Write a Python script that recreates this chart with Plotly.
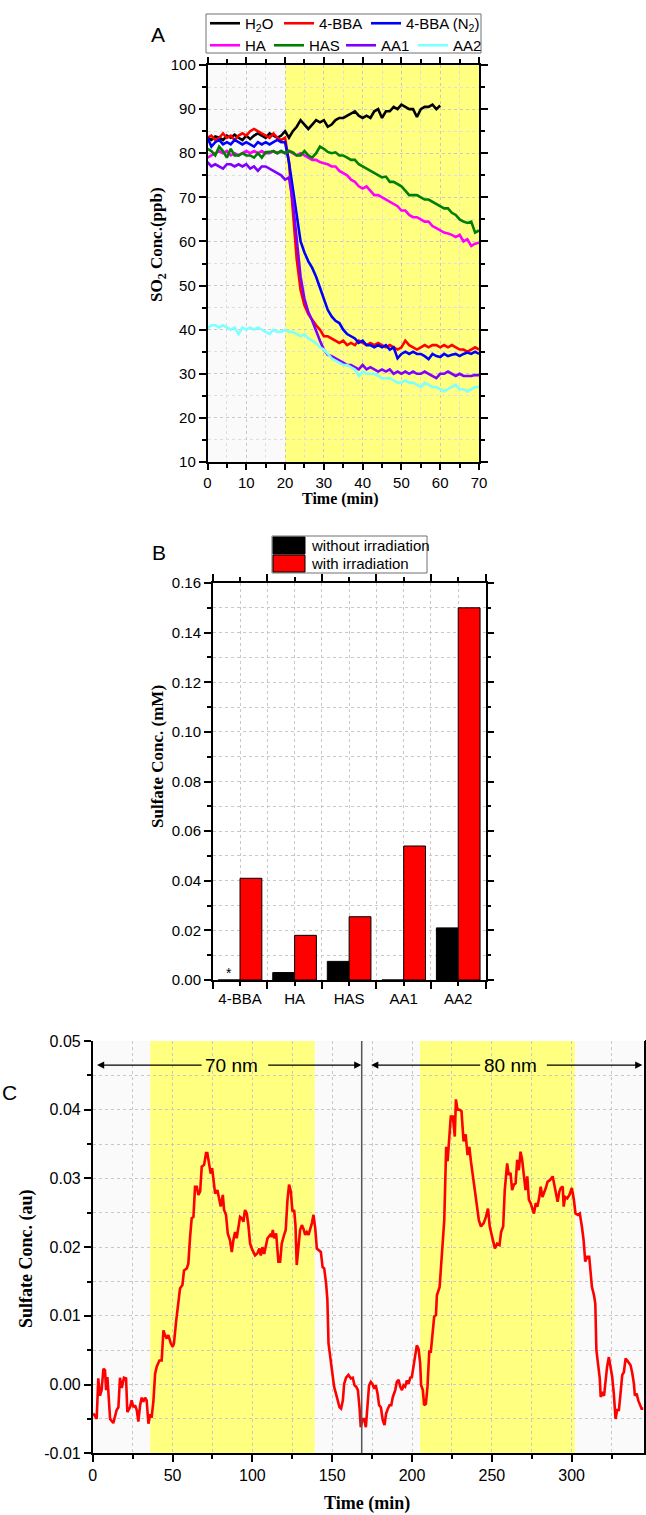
import plotly.graph_objects as go

W, H = 646, 1515

# ---------------- Panel A data ----------------
t_a = list(range(0, 71))
t_h2o = list(range(0, 61))
h2o = [83.5, 83, 83.8, 83.5, 83, 84, 83.5, 84.2, 83.5, 83, 84, 83.2, 84, 84.5, 84, 83.5, 84.5, 84, 83.5, 84,
       85, 83.5, 85, 86, 87.5, 86.5, 85.5, 86.5, 87.5, 87, 87.5, 86, 86.5, 87.5, 88, 88, 88.5, 89, 89.5, 88.5,
       88, 88.5, 88, 89.5, 90, 88, 89.5, 89.5, 90.5, 90, 91, 90.5, 90, 90, 88.2, 90, 90.5, 90.5, 91, 90, 90.8]
bba = [83.5, 84, 83, 83.5, 84.5, 83.5, 84, 83, 84, 84.5, 84, 85, 85.5, 85, 84.5, 84, 83.5, 84.5, 83.5, 83,
       83.5, 78, 66, 56, 49, 45.5, 43.5, 42.2, 41, 40, 38.5, 38.5, 38, 37.5, 37, 37.5, 36.5, 37, 36.5, 37.5,
       37, 36.5, 37, 36.5, 37, 36.5, 36, 36.5, 36, 35.5, 36, 37.5, 36.5, 36, 35.5, 36, 36.5, 36, 36.5, 36.5,
       36, 36.5, 36, 36.5, 36, 35.5, 35.5, 35, 35.5, 36, 35.5]
bba_n2 = [83.5, 81.5, 82.5, 83, 82, 82.5, 82, 83, 82.5, 82, 82.5, 82, 81.5, 82.5, 82, 82.5, 82, 82.5, 83, 82.5,
          82.5, 78, 72, 66, 60, 57.5, 55.5, 54, 52, 49.5, 47, 44.5, 43, 42, 41.5, 40, 39, 38.5, 38, 37,
          37.5, 36.5, 36.5, 36, 36.5, 36, 36.5, 35.5, 36, 33.5, 34.5, 35, 34.5, 35, 34.5, 34.5, 34, 33.3, 34.5, 34,
          33.8, 34.5, 34, 34.3, 34.5, 34, 34.5, 34.8, 34.5, 35, 34.5]
ha = [79, 79.5, 80, 80.5, 80, 80.5, 79.5, 80, 79.5, 80, 80.5, 80, 80.5, 80, 80.5, 80, 80, 80.5, 80, 80.5,
      80, 80.5, 80, 79.5, 80, 79.5, 79, 78.5, 78.5, 78, 77.7, 77.5, 77, 77, 76, 75.5, 75, 74, 73.5, 72.5,
      72, 72.5, 71.5, 70.5, 70.5, 70, 69.5, 69, 68.5, 68, 67, 67, 66, 65.5, 65.5, 65, 64.5, 64.5, 63.5, 63,
      62.5, 62, 61.8, 61.5, 61, 61.5, 60, 60.5, 59, 59.5, 59.7]
has = [81, 80.5, 79.5, 81.5, 80.5, 79, 81, 79.5, 79.5, 80, 79.5, 79.5, 79, 80, 79, 80.2, 80.3, 80.5, 80, 80.5,
       80, 80.5, 80.2, 79.5, 79.5, 80.5, 79.5, 79, 80, 81.5, 81, 80.3, 80, 80.2, 79.5, 79.5, 79, 78.5, 78.5, 77.5,
       77, 76.5, 76, 75.5, 75, 74.5, 74.7, 73.5, 73.5, 73, 72.5, 71.5, 70.5, 70.5, 70.5, 70, 69.5, 69.5, 69, 68.5,
       68, 67.5, 67.5, 66.5, 66, 65, 64.5, 64.2, 64.5, 62, 62.5]
aa1 = [78, 77, 77.5, 77, 76.5, 77.5, 77.5, 77, 77.5, 77, 77.5, 76.5, 77, 76, 77, 77, 76.5, 76, 75.5, 75,
       74, 74.5, 69, 61, 52, 47, 44, 42, 39.5, 37.5, 35.5, 34.3, 34, 33.5, 33, 32.5, 32, 32, 31.5, 31,
       32, 31, 31.5, 31, 30.5, 31, 30.5, 31, 30, 30.5, 30, 30.5, 30, 30.5, 30, 30, 30.5, 30, 29.5, 29,
       30, 30, 30.5, 30, 29.5, 30, 29.5, 29.5, 29.5, 29.7, 29.7]
aa2 = [40.3, 41, 41, 40.5, 41, 40.5, 40, 40.5, 39, 40.5, 40, 40.5, 40, 40.5, 40, 39.5, 39, 40, 39.5, 39.5,
       40, 39.5, 39.5, 39, 38.5, 39, 38, 37.5, 37, 36, 35.5, 34.5, 33.5, 33, 32.5, 32, 32, 31.5, 31, 29.5,
       30.5, 30, 30, 30, 29.5, 29, 29, 29, 28.5, 28, 28, 28.5, 28, 28, 27.5, 27, 28, 27.5, 27, 27,
       26.5, 26, 26.5, 27, 27.5, 26.5, 26.5, 26, 26.5, 27, 27]

# (name, x, y, colour, legend, legend entry width)
series_a = [
    ("H<sub>2</sub>O", t_h2o, h2o, "#000000", "legend", 29),
    ("4-BBA", t_a, bba, "#ff0000", "legend", 42),
    ("4-BBA (N<sub>2</sub>)", t_a, bba_n2, "#0000ff", "legend", 75),
    ("HA", t_a, ha, "#ff00ff", "legend2", 19),
    ("HAS", t_a, has, "#008000", "legend2", 27),
    ("AA1", t_a, aa1, "#8000ff", "legend2", 27),
    ("AA2", t_a, aa2, "#80ffff", "legend2", 29),
]

# ---------------- Panel B data ----------------
b_cats = ["4-BBA", "HA", "HAS", "AA1", "AA2"]
b_without = [0, 0.003, 0.0075, 0, 0.021]
b_with = [0.041, 0.018, 0.0255, 0.054, 0.150]

# ---------------- Panel C data ----------------
t_c = [0.4, 2.5, 3.5, 4.6, 5.6, 6.7, 7.7, 8.4, 9.2, 10.9, 12.9, 15, 16.1, 17.1, 18.2, 19.6, 20.9, 21.7, 23.4, 24.4,
       25.5, 26.5, 27.6, 28.6, 29.7, 30.7, 31.7, 32.8, 33.8, 34.9, 35.9, 37, 38, 39.1, 40.1, 41.8, 43.2, 44.3, 45.3, 46.4,
       47.4, 48.9, 50.1, 50.9, 52.2, 53.7, 54.7, 56.2, 57.2, 58.9, 59.9, 61, 62, 63.1, 64.1, 65.2, 66.2, 67.3, 68.3, 69.8,
       71, 71.8, 73.1, 73.9, 74.8, 75.6, 76.7, 78.1, 79.4, 80.2, 81.5, 82.3, 83.5, 84.6, 86, 87.1, 88.1, 89.2, 90.2, 91.3,
       92.3, 93.4, 94.4, 95.4, 96.5, 97.5, 98.6, 100, 101.7, 103.2, 104.4, 105.3, 106.3, 107.4, 108.5, 109.5, 111.2, 112.2, 112.8, 113.6,
       114.9, 115.7, 116.3, 117.4, 118.4, 119.9, 120.9, 122, 123, 124.1, 125.1, 126.2, 127, 127.8, 128.9, 129.9, 131, 132, 133.1, 134.1,
       135.2, 136.2, 137.3, 138.3, 139.4, 140.4, 141.4, 142.9, 144, 145, 146.2, 147, 147.7, 148.7, 149.8, 151.2, 152.9, 154.6, 155.6, 156.7,
       157.5, 158.7, 160.2, 161.7, 162.9, 164, 165, 166.1, 167.1, 167.9, 169, 170, 171.1, 172.1, 173.1, 174.2, 175.2, 176.3, 177.3, 178.4,
       179.4, 180.5, 181.7, 182.8, 183.8, 184.9, 185.9, 187, 188, 189.5, 190.5, 191.6, 192.6, 193.7, 194.7, 195.7, 196.8, 197.8, 198.9, 199.9,
       200.9, 202, 203, 204.1, 205.1, 205.7, 206.8, 207.6, 208.7, 209.7, 210.8, 211.8, 212.9, 213.9, 215, 215.6, 217.3, 218.7, 220.2, 221.4,
       222.3, 223.1, 224.3, 225.6, 226.8, 227.5, 228.5, 229.8, 231, 232.3, 233.6, 234.8, 235.9, 236.9, 238.2, 239.4, 240.7, 241.9, 243.2, 244.9,
       246.3, 247.6, 248.7, 249.7, 250.8, 251.9, 253.3, 254.8, 255.8, 257.1, 258.1, 259.6, 260.6, 261.7, 262.7, 263.8, 264.9, 265.9, 266.9, 268,
       269, 270.1, 271.1, 272.2, 273.2, 274.3, 275.4, 276.4, 277.5, 278.5, 279.6, 280.6, 281.7, 282.7, 283.8, 284.9, 286.6, 288.1, 289.1, 290.2,
       291.2, 292.3, 293.2, 294.4, 295, 295.9, 297.2, 298.6, 300.1, 301.4, 302.4, 303.9, 305.1, 306.4, 307.5, 308.5, 309.8, 311, 311.9, 312.7,
       314, 314.8, 315.5, 316.5, 317.6, 318.2, 319.3, 320.3, 321.2, 322.2, 323.3, 324.3, 325.4, 326.4, 327.5, 328.5, 329.6, 330.6, 331.7, 332.7,
       333.8, 334.8, 335.9, 336.9, 338, 339, 339.6, 340.7, 341.7, 342.8, 343.8, 345]
v_c = [-0.0042, -0.0050, 0.0009, -0.0016, -0.0008, 0.0023, 0.0021, -0.0008, 0.0011, -0.0050, -0.0056, -0.0037, -0.0033, 0.0010, -0.0005, 0.0010, 0.0009, -0.0040, -0.0033, -0.0023,
       -0.0033, -0.0030, -0.0037, -0.0054, -0.0030, -0.0019, -0.0025, -0.0019, -0.0023, -0.0057, -0.0045, -0.0046, -0.0025, 0.0016, 0.0026, 0.0035, 0.0035, 0.0079, 0.0072, 0.0067,
       0.0072, 0.0060, 0.0055, 0.0060, 0.0091, 0.0120, 0.0140, 0.0145, 0.0166, 0.0169, 0.0176, 0.0215, 0.0242, 0.0244, 0.0288, 0.0288, 0.0276, 0.0281, 0.0317, 0.0320,
       0.0337, 0.0337, 0.0317, 0.0307, 0.0315, 0.0300, 0.0278, 0.0283, 0.0269, 0.0259, 0.0276, 0.0254, 0.0247, 0.0220, 0.0210, 0.0193, 0.0210, 0.0222, 0.0213, 0.0227,
       0.0244, 0.0242, 0.0237, 0.0254, 0.0249, 0.0232, 0.0205, 0.0196, 0.0188, 0.0191, 0.0198, 0.0188, 0.0200, 0.0190, 0.0200, 0.0213, 0.0218, 0.0215, 0.0225, 0.0213,
       0.0220, 0.0200, 0.0179, 0.0179, 0.0205, 0.0218, 0.0225, 0.0269, 0.0291, 0.0281, 0.0252, 0.0254, 0.0232, 0.0174, 0.0205, 0.0225, 0.0232, 0.0227, 0.0218, 0.0222,
       0.0218, 0.0225, 0.0235, 0.0247, 0.0227, 0.0198, 0.0196, 0.0193, 0.0171, 0.0169, 0.0147, 0.0123, 0.0060, 0.0040, 0.0016, -0.0003, -0.0018, -0.0033, -0.0035, -0.0023,
       0.0001, 0.0010, 0.0014, 0.0009, 0.0010, -0.0001, -0.0003, -0.0008, -0.0033, -0.0062, -0.0050, -0.0050, -0.0062, -0.0023, -0.0001, 0.0004, 0.0001, -0.0006, -0.0001, -0.0013,
       -0.0030, -0.0033, -0.0052, -0.0059, -0.0042, -0.0035, -0.0030, -0.0030, -0.0018, -0.0008, 0.0004, 0.0007, -0.0003, -0.0008, -0.0001, -0.0003, 0.0006, 0.0001, 0.0010, 0.0011,
       0.0026, 0.0043, 0.0057, 0.0052, 0.0031, -0.0001, -0.0008, -0.0030, -0.0028, -0.0003, 0.0048, 0.0048, 0.0074, 0.0099, 0.0101, 0.0130, 0.0142, 0.0196, 0.0239, 0.0346,
       0.0325, 0.0351, 0.0390, 0.0390, 0.0361, 0.0415, 0.0400, 0.0400, 0.0398, 0.0354, 0.0364, 0.0334, 0.0346, 0.0325, 0.0303, 0.0288, 0.0264, 0.0239, 0.0230, 0.0235,
       0.0244, 0.0256, 0.0230, 0.0220, 0.0205, 0.0198, 0.0205, 0.0203, 0.0222, 0.0230, 0.0283, 0.0322, 0.0305, 0.0308, 0.0283, 0.0291, 0.0293, 0.0327, 0.0312, 0.0339,
       0.0327, 0.0300, 0.0283, 0.0303, 0.0269, 0.0264, 0.0256, 0.0249, 0.0264, 0.0259, 0.0271, 0.0288, 0.0273, 0.0278, 0.0286, 0.0295, 0.0298, 0.0303, 0.0291, 0.0281,
       0.0266, 0.0281, 0.0286, 0.0288, 0.0259, 0.0273, 0.0271, 0.0276, 0.0286, 0.0269, 0.0249, 0.0247, 0.0249, 0.0230, 0.0210, 0.0179, 0.0186, 0.0186, 0.0162, 0.0142,
       0.0130, 0.0118, 0.0050, 0.0031, 0.0009, -0.0018, -0.0013, -0.0016, 0.0006, 0.0026, 0.0040, 0.0028, 0.0011, -0.0013, -0.0050, -0.0037, -0.0037, -0.0013, 0.0014, 0.0018,
       0.0038, 0.0035, 0.0031, 0.0028, 0.0016, 0.0001, -0.0016, -0.0013, -0.0023, -0.0030, -0.0035, -0.0035]

# ---------------- helpers ----------------
def px_x(x):
    return x / W

def px_y(y):
    return 1 - y / H

SANS = "Liberation Sans, Arial, sans-serif"
SERIF = "Liberation Serif, Times New Roman, serif"
GRID = "#c8c8c8"

fig = go.Figure()

for name, tx, vy, col, lg, lw in series_a:
    fig.add_trace(go.Scatter(x=tx, y=vy, mode="lines", name=name,
                             line=dict(color=col, width=2.6), legend=lg, legendwidth=lw,
                             xaxis="x", yaxis="y"))

fig.add_trace(go.Bar(x=list(range(len(b_cats))), y=b_without, name="without irradiation",
                     marker=dict(color="#000000", line=dict(color="#000000", width=1)),
                     xaxis="x2", yaxis="y2", showlegend=False))
fig.add_trace(go.Bar(x=list(range(len(b_cats))), y=b_with, name="with irradiation",
                     marker=dict(color="#ff0000", line=dict(color="#000000", width=1)),
                     xaxis="x2", yaxis="y2", showlegend=False))

fig.add_trace(go.Scatter(x=t_c, y=v_c, mode="lines", line=dict(color="#ff0000", width=2.6),
                         showlegend=False, xaxis="x3", yaxis="y3"))

axis_common = dict(showline=True, linecolor="black", linewidth=1.5, ticks="outside",
                   tickwidth=1.5, tickcolor="black", ticklen=7, zeroline=False,
                   showgrid=True, gridcolor=GRID, griddash="dot", gridwidth=1, automargin=False,
                   tickfont=dict(family=SANS, size=15, color="black"))

fig.update_layout(
    width=W, height=H, margin=dict(l=0, r=0, t=0, b=0, autoexpand=False),
    paper_bgcolor="white", plot_bgcolor="white",
    barmode="group", bargap=0.2, bargroupgap=0,
    xaxis=dict(domain=[px_x(207.5), px_x(479)], anchor="y", range=[0, 70], tick0=0, dtick=10,
               mirror="ticks",
               minor=dict(dtick=5, ticklen=4, tickwidth=1.5, ticks="outside", showgrid=True,
                          gridcolor="#dedede", griddash="dot"),
               **{**axis_common, "ticklen": 6}),
    yaxis=dict(domain=[px_y(462), px_y(65)], anchor="x", range=[10, 100], tick0=10, dtick=10,
               mirror="ticks",
               minor=dict(dtick=5, ticklen=4, tickwidth=1.5, ticks="outside", showgrid=True,
                          gridcolor="#dedede", griddash="dot"),
               **axis_common),
    xaxis2=dict(domain=[px_x(212.75), px_x(485.5)], anchor="y2", range=[-0.5, 4.5],
                tickmode="array", tickvals=list(range(len(b_cats))), ticktext=b_cats,
                mirror="ticks",
                minor=dict(tickmode="array", tickvals=[-0.5, 0.5, 1.5, 2.5, 3.5, 4.5], ticklen=7,
                           tickwidth=1.5, ticks="outside", showgrid=True, gridcolor=GRID, griddash="dot"),
                **{**axis_common, "ticklen": 4}),
    yaxis2=dict(domain=[px_y(980), px_y(583)], anchor="x2", range=[0, 0.16], tick0=0, dtick=0.02,
                tickformat=".2f", mirror="ticks",
                minor=dict(dtick=0.01, ticklen=4, tickwidth=1.5, ticks="outside", showgrid=True,
                           gridcolor=GRID, griddash="dot"),
                **axis_common),
    xaxis3=dict(domain=[px_x(92.7), px_x(643.5)], anchor="y3", range=[0, 345], tick0=0, dtick=50,
                mirror=False,
                minor=dict(dtick=25, ticklen=4, tickwidth=1.5, ticks="outside", showgrid=True,
                           gridcolor=GRID, griddash="dot"),
                **{**axis_common, "tickfont": dict(family=SANS, size=16, color="black")}),
    yaxis3=dict(domain=[px_y(1453.3), px_y(1041)], anchor="x3", range=[-0.01, 0.05],
                tickmode="array", tickvals=[-0.01, 0, 0.01, 0.02, 0.03, 0.04, 0.05],
                ticktext=["-0.01", "0.00", "0.01", "0.02", "0.03", "0.04", "0.05"],
                mirror="ticks",
                minor=dict(tickmode="linear", tick0=-0.01, dtick=0.005, ticklen=4, tickwidth=1.5,
                           ticks="outside", showgrid=True, gridcolor=GRID, griddash="dot"),
                **{**axis_common, "tickfont": dict(family=SANS, size=16, color="black")}),
    legend=dict(x=px_x(205), y=px_y(7), xanchor="left", yanchor="top", orientation="h",
                font=dict(family=SANS, size=15, color="black"), bgcolor="rgba(0,0,0,0)",
                borderwidth=0, itemwidth=30, tracegroupgap=0),
    legend2=dict(x=px_x(205), y=px_y(29), xanchor="left", yanchor="top", orientation="h",
                 font=dict(family=SANS, size=15, color="black"), bgcolor="rgba(0,0,0,0)",
                 borderwidth=0, itemwidth=30, tracegroupgap=0),
)

shapes = [
    # panel A backgrounds
    dict(type="rect", xref="x", yref="y domain", x0=0, x1=20, y0=0, y1=1,
         fillcolor="#fafafa", line=dict(width=0), layer="below"),
    dict(type="rect", xref="x", yref="y domain", x0=20, x1=70, y0=0, y1=1,
         fillcolor="#ffff80", line=dict(width=0), layer="below"),
    # panel C backgrounds
    dict(type="rect", xref="x3", yref="y3 domain", x0=0, x1=345, y0=0, y1=1,
         fillcolor="#fafafa", line=dict(width=0), layer="below"),
    dict(type="rect", xref="x3", yref="y3 domain", x0=36, x1=139, y0=0, y1=1,
         fillcolor="#ffff80", line=dict(width=0), layer="below"),
    dict(type="rect", xref="x3", yref="y3 domain", x0=205, x1=302, y0=0, y1=1,
         fillcolor="#ffff80", line=dict(width=0), layer="below"),
    dict(type="line", xref="x3", yref="y3 domain", x0=168.5, x1=168.5, y0=0, y1=1,
         line=dict(color="#555555", width=1.5)),
    # legend A box
    dict(type="rect", xref="paper", yref="paper", x0=px_x(206), x1=px_x(481), y0=px_y(53), y1=px_y(14),
         line=dict(color="#707070", width=1), fillcolor="rgba(0,0,0,0)"),
    # legend B box and swatches
    dict(type="rect", xref="paper", yref="paper", x0=px_x(272), x1=px_x(427), y0=px_y(573), y1=px_y(536),
         line=dict(color="#707070", width=1), fillcolor="white"),
    dict(type="rect", xref="paper", yref="paper", x0=px_x(273), x1=px_x(305), y0=px_y(554), y1=px_y(537),
         line=dict(color="#000000", width=1), fillcolor="#000000"),
    dict(type="rect", xref="paper", yref="paper", x0=px_x(273), x1=px_x(305), y0=px_y(572), y1=px_y(555),
         line=dict(color="#000000", width=1), fillcolor="#ff0000"),
]

def ann(text, x, y, size, family=SANS, angle=0, xanchor="center"):
    return dict(text=text, x=px_x(x), y=px_y(y), xref="paper", yref="paper", showarrow=False,
                xanchor=xanchor, yanchor="middle", textangle=angle,
                font=dict(family=family, size=size, color="black"))

annotations = [
    ann("A", 158, 35, 21),
    ann("B", 159, 553, 21),
    ann("C", 9, 1092, 21),
    ann("<b>SO<sub>2</sub> Conc.(ppb)</b>", 158, 245, 17, SERIF, -90),
    ann("<b>Time (min)</b>", 340, 499, 16, SERIF),
    ann("<b>Sulfate Conc. (mM)</b>", 157, 757, 17, SERIF, -90),
    ann("<b>Sulfate Conc. (au)</b>", 26, 1259, 18, SERIF, -90),
    ann("<b>Time (min)</b>", 367, 1503, 18, SERIF),
    ann("without irradiation", 309, 545, 15, xanchor="left"),
    ann("with irradiation", 309, 563, 15, xanchor="left"),
    dict(text="*", x=-0.2, y=0.003, xref="x2", yref="y2", showarrow=False,
         xanchor="center", yanchor="middle", font=dict(family=SANS, size=14, color="black")),
]
# arrows for the two size ranges in panel C
for label, left_head, centre, right_head in [("70 nm", 2.7, 87, 168.3), ("80 nm", 174.4, 261.5, 344.3)]:
    annotations.append(dict(text=label, x=left_head, y=0.0465, ax=centre, ay=0.0465,
                            xref="x3", yref="y3", axref="x3", ayref="y3", showarrow=True,
                            arrowhead=2, arrowsize=1.2, arrowwidth=1.2, arrowcolor="black",
                            standoff=0, borderpad=3, font=dict(family=SANS, size=19, color="black")))
    annotations.append(dict(text="", x=right_head, y=0.0465, ax=centre + 22, ay=0.0465,
                            xref="x3", yref="y3", axref="x3", ayref="y3", showarrow=True,
                            arrowhead=2, arrowsize=1.2, arrowwidth=1.2, arrowcolor="black",
                            standoff=0))

fig.update_layout(shapes=shapes, annotations=annotations)
fig.write_html("out.html",
               post_script="document.body.style.margin='0';document.body.style.padding='0';")
